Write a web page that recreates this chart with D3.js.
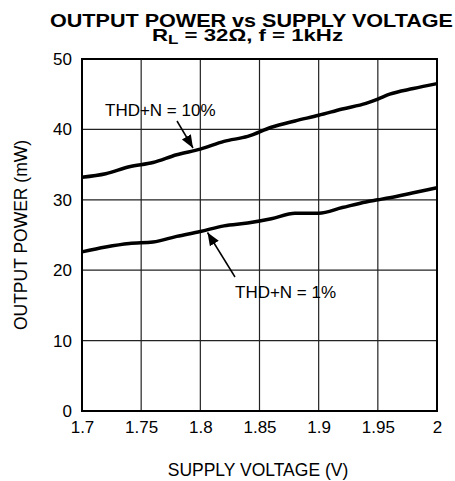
<!DOCTYPE html>
<html>
<head>
  <script src="https://d3js.org/d3.v7.min.js"></script>
  <style>
  body { margin: 0; background: #fff; }
  text { font-family: Arial, "Liberation Sans", sans-serif; fill: #000; }
  </style>
</head>
<body>
  <script>
  var w = 455;
  var h = 481;

  // Data
  var voltage = [1.70, 1.72, 1.74, 1.76, 1.78, 1.80, 1.82, 1.84, 1.86, 1.88, 1.90, 1.92, 1.94, 1.95, 1.96, 1.98, 2.00];
  var thd10 = [33.2, 33.7, 34.7, 35.3, 36.4, 37.2, 38.3, 39.0, 40.3, 41.2, 42.0, 42.9, 43.7, 44.3, 45.0, 45.8, 46.5];
  var thd1 = [22.6, 23.3, 23.8, 24.0, 24.8, 25.5, 26.3, 26.7, 27.3, 28.1, 28.1, 28.9, 29.7, 30.0, 30.3, 31.0, 31.7];
  var xTicks = [1.7, 1.75, 1.8, 1.85, 1.9, 1.95, 2];
  var xTickLabels = ["1.7", "1.75", "1.8", "1.85", "1.9", "1.95", "2"];
  var yTicks = [0, 10, 20, 30, 40, 50];

  var pLeft = 82, pRight = 437, pTop = 59, pBottom = 411;

  var x = d3.scaleLinear().domain([1.7, 2]).range([pLeft, pRight]);
  var y = d3.scaleLinear().domain([0, 50]).range([pBottom, pTop]);

  var svg = d3.select("body")
    .append("svg")
    .attr("width", w)
    .attr("height", h);

  svg.append("defs").append("marker")
    .attr("id", "head")
    .attr("viewBox", "0 0 10 10")
    .attr("refX", 10)
    .attr("refY", 5)
    .attr("markerWidth", 13)
    .attr("markerHeight", 13)
    .attr("markerUnits", "userSpaceOnUse")
    .attr("orient", "auto")
    .append("path")
      .attr("d", "M0,1 L10,5 L0,9 Z")
      .attr("fill", "#000");

  //Grid
  var grid = svg.append("g");
  grid.selectAll("line.vx")
    .data(xTicks.slice(1, -1))
    .enter().append("line")
      .attr("x1", function(d){ return x(d); })
      .attr("x2", function(d){ return x(d); })
      .attr("y1", pTop).attr("y2", pBottom)
      .attr("stroke", "#222").attr("stroke-width", 1.2);
  grid.selectAll("line.hy")
    .data(yTicks.slice(1, -1))
    .enter().append("line")
      .attr("y1", function(d){ return y(d); })
      .attr("y2", function(d){ return y(d); })
      .attr("x1", pLeft).attr("x2", pRight)
      .attr("stroke", "#222").attr("stroke-width", 1.2);

  //Frame
  svg.append("rect")
    .attr("x", pLeft).attr("y", pTop)
    .attr("width", pRight - pLeft).attr("height", pBottom - pTop)
    .attr("fill", "none")
    .attr("stroke", "#000")
    .attr("stroke-width", 2);

  //Axes labels
  var xAxis = d3.axisBottom(x).tickValues(xTicks).tickSize(0).tickPadding(10)
    .tickFormat(function(d, i){ return xTickLabels[i]; });
  var gx = svg.append("g").attr("transform", "translate(0," + pBottom + ")").call(xAxis);
  gx.select(".domain").remove();
  gx.selectAll("text").attr("font-size", 17).attr("font-family", "Arial, 'Liberation Sans', sans-serif").attr("fill", "#000");

  var yAxis = d3.axisLeft(y).tickValues(yTicks).tickSize(0).tickPadding(10);
  var gy = svg.append("g").attr("transform", "translate(" + pLeft + ",0)").call(yAxis);
  gy.select(".domain").remove();
  gy.selectAll("text").attr("font-size", 17).attr("font-family", "Arial, 'Liberation Sans', sans-serif").attr("fill", "#000");

  //Curves
  var line = d3.line()
    .x(function(d){ return x(d[0]); })
    .y(function(d){ return y(d[1]); })
    .curve(d3.curveMonotoneX);

  [thd10, thd1].forEach(function(series){
    svg.append("path")
      .datum(voltage.map(function(v, i){ return [v, series[i]]; }))
      .attr("d", line)
      .attr("fill", "none")
      .attr("stroke", "#000")
      .attr("stroke-width", 3.5)
      .attr("stroke-linejoin", "round");
  });

  //Annotations
  svg.append("text").attr("x", 105).attr("y", 116).attr("font-size", 17).text("THD+N = 10%");
  svg.append("line")
    .attr("x1", 177).attr("y1", 121).attr("x2", 193).attr("y2", 148)
    .attr("stroke", "#000").attr("stroke-width", 1.5)
    .attr("marker-end", "url(#head)");

  svg.append("text").attr("x", 235).attr("y", 298).attr("font-size", 17).text("THD+N = 1%");
  svg.append("line")
    .attr("x1", 235).attr("y1", 277).attr("x2", 207.5).attr("y2", 232.5)
    .attr("stroke", "#000").attr("stroke-width", 1.5)
    .attr("marker-end", "url(#head)");

  //Titles
  svg.append("text")
    .attr("x", 251.5).attr("y", 27)
    .attr("text-anchor", "middle")
    .attr("font-size", 18.5).attr("font-weight", "bold")
    .attr("textLength", 403).attr("lengthAdjust", "spacingAndGlyphs")
    .text("OUTPUT POWER vs SUPPLY VOLTAGE");

  var t2 = svg.append("text")
    .attr("x", 247.5).attr("y", 41)
    .attr("text-anchor", "middle")
    .attr("font-size", 17).attr("font-weight", "bold")
    .attr("textLength", 191).attr("lengthAdjust", "spacingAndGlyphs");
  t2.append("tspan").text("R");
  t2.append("tspan").attr("font-size", 13).attr("dy", 3).text("L");
  t2.append("tspan").attr("dy", -3).text(" = 32\u03A9, f = 1kHz");

  svg.append("text")
    .attr("x", 258).attr("y", 476)
    .attr("text-anchor", "middle")
    .attr("font-size", 17.5)
    .text("SUPPLY VOLTAGE (V)");

  svg.append("text")
    .attr("transform", "translate(27," + ((pTop + pBottom) / 2) + ") rotate(-90)")
    .attr("text-anchor", "middle")
    .attr("font-size", 17.5)
    .text("OUTPUT POWER (mW)");
  </script>
</body>
</html>
